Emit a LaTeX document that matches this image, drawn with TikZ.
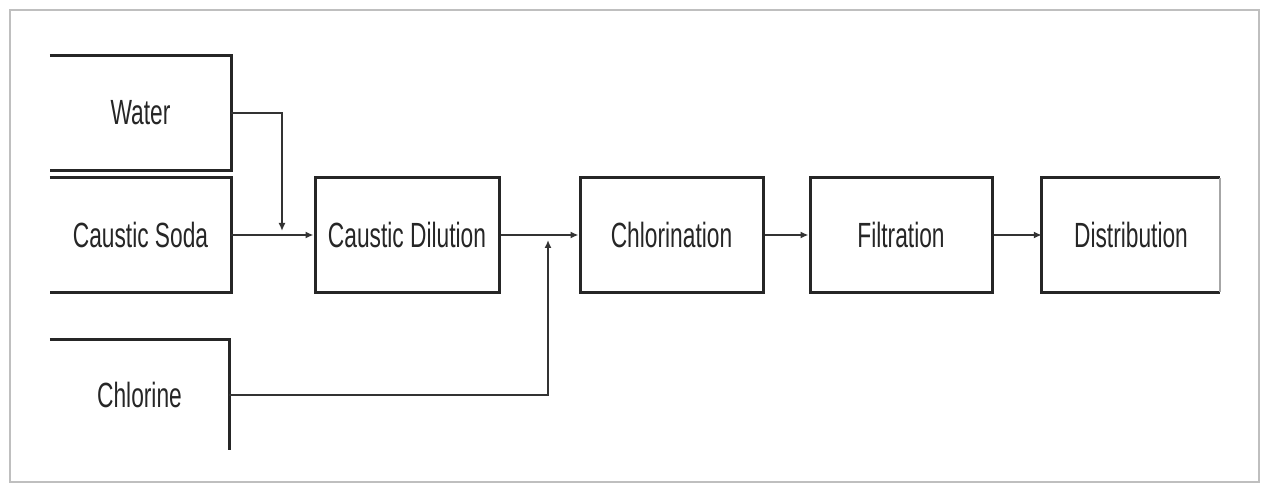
\documentclass[tikz,border=0pt]{standalone}
\usepackage{fontspec}
\setmainfont{Liberation Sans}[FakeStretch=0.65]
\usetikzlibrary{arrows.meta}
\tikzset{
  blk/.style={text=black!85, font=\fontsize{35}{38}\selectfont, inner sep=0pt},
  edge/.style={line width=3pt, draw=black!85},
  faint/.style={line width=2pt, draw=black!35},
  flow/.style={line width=2.4pt, draw=black!80, -{Latex[length=8pt,width=7pt]}},
  frame/.style={line width=2.5pt, draw=black!25},
}
\begin{document}
\begin{tikzpicture}[x=1pt,y=-1pt]
  \fill[white] (0,0) rectangle (1269,489);
  \draw[frame] (10,10) rectangle (1259,482);

  % sources (open boxes)
  \node[blk, minimum width=181pt, minimum height=114pt] (water) at (140.5,113) {Water};
  \node[blk, minimum width=181pt, minimum height=114pt] (soda) at (140.5,235) {Caustic Soda};
  \node[blk, minimum width=179pt, minimum height=110pt] (chlorine) at (139.5,395) {Chlorine};
  \draw[edge] (water.north west) -- (water.north east) -- (water.south east) -- (water.south west);
  \draw[edge] (soda.north west) -- (soda.north east) -- (soda.south east) -- (soda.south west);
  \draw[edge] (chlorine.north west) -- (chlorine.north east) -- (chlorine.south east);

  % process steps
  \node[blk, edge, minimum width=184pt, minimum height=114pt] (dil) at (407,235) {Caustic Dilution};
  \node[blk, edge, minimum width=183pt, minimum height=114pt] (chlor) at (671.5,235) {Chlorination};
  \node[blk, edge, minimum width=182pt, minimum height=114pt] (filt) at (901,235) {Filtration};
  \node[blk, minimum width=178pt, minimum height=114pt] (dist) at (1131,235) {Distribution};
  \draw[edge] (dist.north east) -- (dist.north west) -- (dist.south west) -- (dist.south east);
  \draw[faint] (dist.north east) -- (dist.south east);

  % junction points
  \coordinate (j1) at (282,231);
  \coordinate (j2) at (548,240);

  % connectors
  \draw[flow] (water.east) -| (j1);
  \draw[flow] (soda.east) -- (dil.west);
  \draw[flow] (dil.east) -- (chlor.west);
  \draw[flow] (chlorine.east) -| (j2);
  \draw[flow] (chlor.east) -- (filt.west);
  \draw[flow] (filt.east) -- (dist.west);
\end{tikzpicture}
\end{document}
